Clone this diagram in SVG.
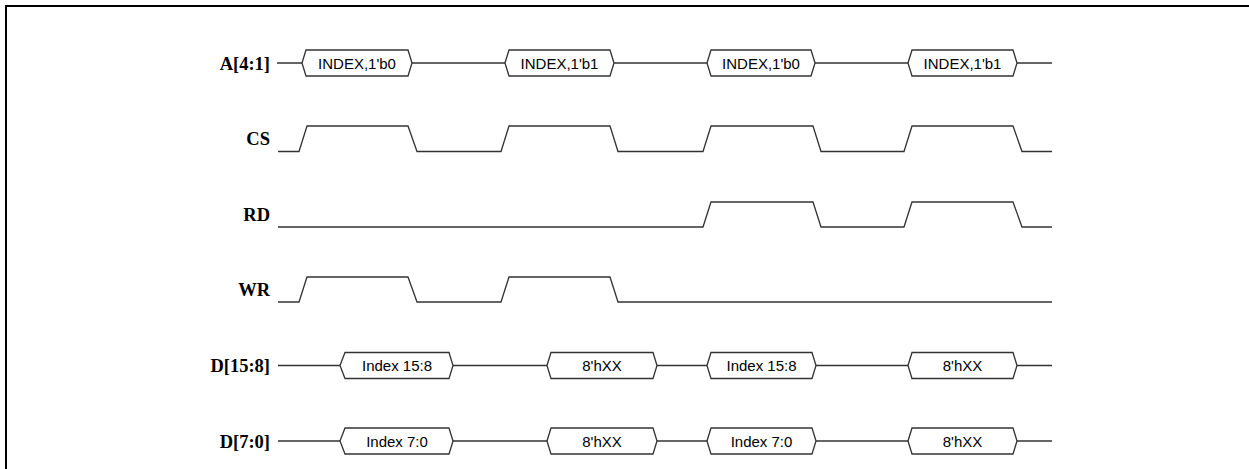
<svg xmlns="http://www.w3.org/2000/svg" width="1249" height="469" viewBox="0 0 1249 469">
<style>
.frame{fill:none;stroke:#000;stroke-width:2}
.sig{fill:none;stroke:#333;stroke-width:1.3;stroke-linejoin:miter}
.bus{fill:#fff;stroke:#333;stroke-width:1.3}
.lbl{font-family:"Liberation Serif","Times New Roman",serif;font-weight:bold;font-size:18.5px;fill:#000;text-anchor:end}
.val{font-family:"Liberation Sans",Arial,sans-serif;font-size:15px;fill:#000;text-anchor:middle}
</style>
<rect width="1249" height="469" fill="#fff"/>
<path class="frame" d="M6,469 V6 H1249"/>

<g id="sig-A">
<text class="lbl" x="270" y="69.5">A[4:1]</text>
<path class="sig" d="M277,63 H302 M412,63 H505 M614,63 H707 M815,63 H908 M1017,63 H1052"/>
<polygon class="bus" points="302,63 306,50 408,50 412,63 408,76 306,76"/>
<text class="val" x="357" y="68.5">INDEX,1'b0</text>
<polygon class="bus" points="505,63 509,50 610,50 614,63 610,76 509,76"/>
<text class="val" x="559.5" y="68.5">INDEX,1'b1</text>
<polygon class="bus" points="707,63 711,50 811,50 815,63 811,76 711,76"/>
<text class="val" x="761" y="68.5">INDEX,1'b0</text>
<polygon class="bus" points="908,63 912,50 1013,50 1017,63 1013,76 912,76"/>
<text class="val" x="962.5" y="68.5">INDEX,1'b1</text>
</g>

<g id="sig-CS">
<text class="lbl" x="270" y="145">CS</text>
<path class="sig" d="M278,151.5 H299 L307,126 H408 L417,151.5 H501 L509,126 H610 L618,151.5 H703 L711,126 H813 L821,151.5 H904 L912,126 H1013 L1022,151.5 H1052"/>
</g>

<g id="sig-RD">
<text class="lbl" x="270" y="220.5">RD</text>
<path class="sig" d="M278,227 H703 L711,202 H813 L821,227 H904 L912,202 H1013 L1022,227 H1052"/>
</g>

<g id="sig-WR">
<text class="lbl" x="270" y="296">WR</text>
<path class="sig" d="M278,302 H299 L307,277 H408 L417,302 H501 L509,277 H610 L618,302 H1052"/>
</g>

<g id="sig-D15">
<text class="lbl" x="270" y="372">D[15:8]</text>
<path class="sig" d="M278,365.5 H340 M453,365.5 H547 M657,365.5 H707 M816,365.5 H908 M1017,365.5 H1052"/>
<polygon class="bus" points="340,365.5 345,352.5 449,352.5 453,365.5 449,378.5 345,378.5"/>
<text class="val" x="397" y="371">Index 15:8</text>
<polygon class="bus" points="547,365.5 551,352.5 653,352.5 657,365.5 653,378.5 551,378.5"/>
<text class="val" x="602" y="371">8'hXX</text>
<polygon class="bus" points="707,365.5 711,352.5 812,352.5 816,365.5 812,378.5 711,378.5"/>
<text class="val" x="761.5" y="371">Index 15:8</text>
<polygon class="bus" points="908,365.5 912,352.5 1013,352.5 1017,365.5 1013,378.5 912,378.5"/>
<text class="val" x="962.5" y="371">8'hXX</text>
</g>

<g id="sig-D7">
<text class="lbl" x="270" y="447.5">D[7:0]</text>
<path class="sig" d="M278,441 H340 M453,441 H547 M657,441 H707 M816,441 H908 M1017,441 H1052"/>
<polygon class="bus" points="340,441 345,428 449,428 453,441 449,454 345,454"/>
<text class="val" x="397" y="446.5">Index 7:0</text>
<polygon class="bus" points="547,441 551,428 653,428 657,441 653,454 551,454"/>
<text class="val" x="602" y="446.5">8'hXX</text>
<polygon class="bus" points="707,441 711,428 812,428 816,441 812,454 711,454"/>
<text class="val" x="761.5" y="446.5">Index 7:0</text>
<polygon class="bus" points="908,441 912,428 1013,428 1017,441 1013,454 912,454"/>
<text class="val" x="962.5" y="446.5">8'hXX</text>
</g>

<g id="connectors"></g>
</svg>
